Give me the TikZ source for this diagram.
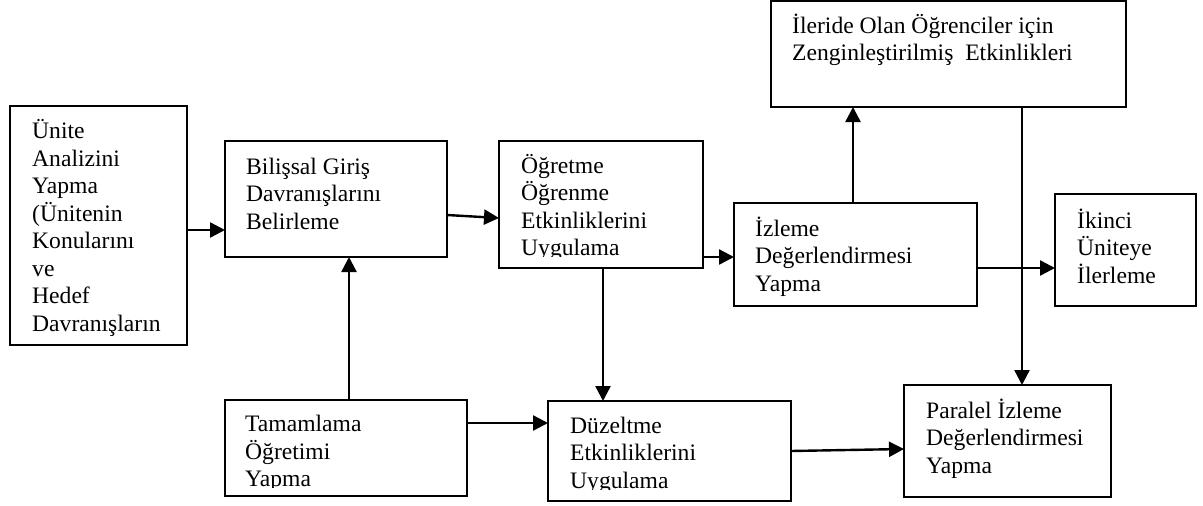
\documentclass[tikz,border=0pt]{standalone}
\usepackage{fontspec}
\setmainfont{Liberation Serif}
\usetikzlibrary{arrows.meta}
\begin{document}
\begin{tikzpicture}[x=1pt,y=-1pt,
  box/.style={draw, line width=1.5pt, inner sep=0pt, outer sep=0pt, anchor=north west},
  txt/.style={font=\fontsize{23.6pt}{27.5pt}\selectfont, align=left, inner sep=0pt, anchor=base west},
  arr/.style={line width=2.4pt, -{Triangle[length=15pt,width=15pt]}}]
\useasboundingbox (0,0) rectangle (1203,506);
% boxes
\node[box, minimum width=177pt, minimum height=239pt] (b1) at (10,106) {};
\node[box, minimum width=222pt, minimum height=116pt] (b2) at (225,141) {};
\node[box, minimum width=204pt, minimum height=127pt] (b3) at (499,141) {};
\node[box, minimum width=243pt, minimum height=103pt] (b4) at (734,203) {};
\node[box, minimum width=355pt, minimum height=106pt] (b5) at (771,1) {};
\node[box, minimum width=141pt, minimum height=112pt] (b6) at (1055,194) {};
\node[box, minimum width=242pt, minimum height=96pt] (b7) at (225,400) {};
\node[box, minimum width=243pt, minimum height=100pt] (b8) at (548,401) {};
\node[box, minimum width=207pt, minimum height=112pt] (b9) at (904,385) {};
% texts (anchored at the baseline of their last line)
\node[txt] (t1) at (32,331) {Ünite\\Analizini\\Yapma\\(Ünitenin\\Konularını\\ve\\Hedef\\Davranışların};
\node[txt] (t2) at (246,229.3) {Bilişsal Giriş\\Davranışlarını\\Belirleme};
\begin{scope}
\clip (499,141) rectangle (703,256.6);
\node[txt] (t3) at (521,255.7) {Öğretme\\Öğrenme\\Etkinliklerini\\Uygulama};
\end{scope}
\node[txt] (t4) at (755,291) {İzleme\\Değerlendirmesi\\Yapma};
\node[txt] (t5) at (792,60.7) {İleride Olan Öğrenciler için\\Zenginleştirilmiş\ \ Etkinlikleri};
\node[txt] (t6) at (1077,283) {İkinci\\Üniteye\\İlerleme};
\begin{scope}
\clip (225,400) rectangle (467,487.2);
\node[txt] (t7) at (245,486.7) {Tamamlama\\Öğretimi\\Yapma};
\end{scope}
\begin{scope}
\clip (548,401) rectangle (791,489.1);
\node[txt] (t8) at (570,488.3) {Düzeltme\\Etkinliklerini\\Uygulama};
\end{scope}
\node[txt] (t9) at (926,473.3) {Paralel İzleme\\Değerlendirmesi\\Yapma};
% arrows
\draw[arr] (b1.east |- 0,230) -- (b2.west |- 0,230);
\draw[arr] (b2.east |- 0,215) -- (b3.west |- 0,218);
\draw[arr] (b3.east |- 0,257) -- (b4.west |- 0,257);
\draw[arr] (b4.north -| 853,0) -- (b5.south -| 853,0);
\draw[arr] (b4.east |- 0,268) -- (b6.west |- 0,268);
\draw[arr] (b5.south -| 1022,0) -- (b9.north -| 1022,0);
\draw[arr] (b3.south -| 603,0) -- (b8.north -| 603,0);
\draw[arr] (b7.north -| 349,0) -- (b2.south -| 349,0);
\draw[arr] (b7.east |- 0,423) -- (b8.west |- 0,423);
\draw[arr] (b8.east |- 0,451) -- (b9.west |- 0,449);
\end{tikzpicture}
\end{document}
